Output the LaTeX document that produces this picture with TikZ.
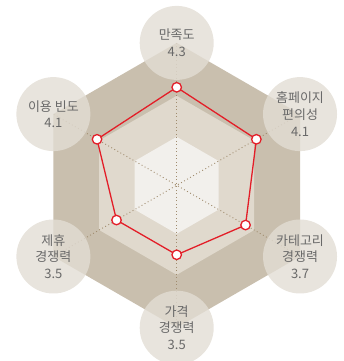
\documentclass[tikz,border=0pt]{standalone}
\usepackage{fontspec}
\setmainfont{Noto Sans CJK KR}
\usetikzlibrary{calc}
\definecolor{outerhex}{RGB}{201,191,174}
\definecolor{midhex}{RGB}{224,217,205}
\definecolor{innerhex}{RGB}{242,240,236}
\definecolor{circfill}{RGB}{226,221,212}
\definecolor{spoke}{RGB}{160,140,110}
\definecolor{datared}{RGB}{227,30,40}
\definecolor{labeltext}{RGB}{105,105,105}
\begin{document}
\begin{tikzpicture}[x=1pt,y=1pt,
  labelcirc/.style={circle,minimum size=74pt,inner sep=0pt,fill=circfill,fill opacity=0.8,text opacity=1,
    text=labeltext,align=center,font=\fontsize{13}{16.7}\selectfont},
  spokeline/.style={spoke,line width=0.9pt,dash pattern=on 0.9pt off 2.6pt},
  dataline/.style={datared,line width=1.3pt,line join=round},
  datamark/.style={circle,minimum size=9.5pt,inner sep=0pt,fill=white,draw=datared,line width=1.3pt}]
\useasboundingbox (0,0) rectangle (343,361);
\coordinate (C) at (176.7,175.7);
\foreach \a [count=\i] in {90,30,-30,-90,-150,150} {
  \coordinate (o\i) at ($(C)+(\a:142.4)$);
  \coordinate (m\i) at ($(C)+(\a:89.5)$);
  \coordinate (n\i) at ($(C)+(\a:48.5)$);
}
\foreach \a/\r [count=\i] in {90/98,30/92,-30/79.5,-90/69.5,-150/69.5,150/92} {
  \coordinate (p\i) at ($(C)+(\a:\r)$);
}
\fill[outerhex] (o1) -- (o2) -- (o3) -- (o4) -- (o5) -- (o6) -- cycle;
\fill[midhex] (m1) -- (m2) -- (m3) -- (m4) -- (m5) -- (m6) -- cycle;
\fill[innerhex] (n1) -- (n2) -- (n3) -- (n4) -- (n5) -- (n6) -- cycle;
\draw[spokeline] (o1) -- (o4);
\draw[spokeline] (o2) -- (o5);
\draw[spokeline] (o3) -- (o6);
\node[labelcirc] (l1) at (o1) {만족도\\4.3};
\node[labelcirc] (l2) at (o2) {홈페이지\\편의성\\4.1};
\node[labelcirc] (l3) at (o3) {카테고리\\경쟁력\\3.7};
\node[labelcirc] (l4) at (o4) {가격\\경쟁력\\3.5};
\node[labelcirc] (l5) at (o5) {제휴\\경쟁력\\3.5};
\node[labelcirc] (l6) at (o6) {이용 빈도\\4.1};
\draw[dataline] (p1) -- (p2) -- (p3) -- (p4) -- (p5) -- (p6) -- cycle;
\foreach \i in {1,...,6} { \node[datamark] (d\i) at (p\i) {}; }
\end{tikzpicture}
\end{document}
